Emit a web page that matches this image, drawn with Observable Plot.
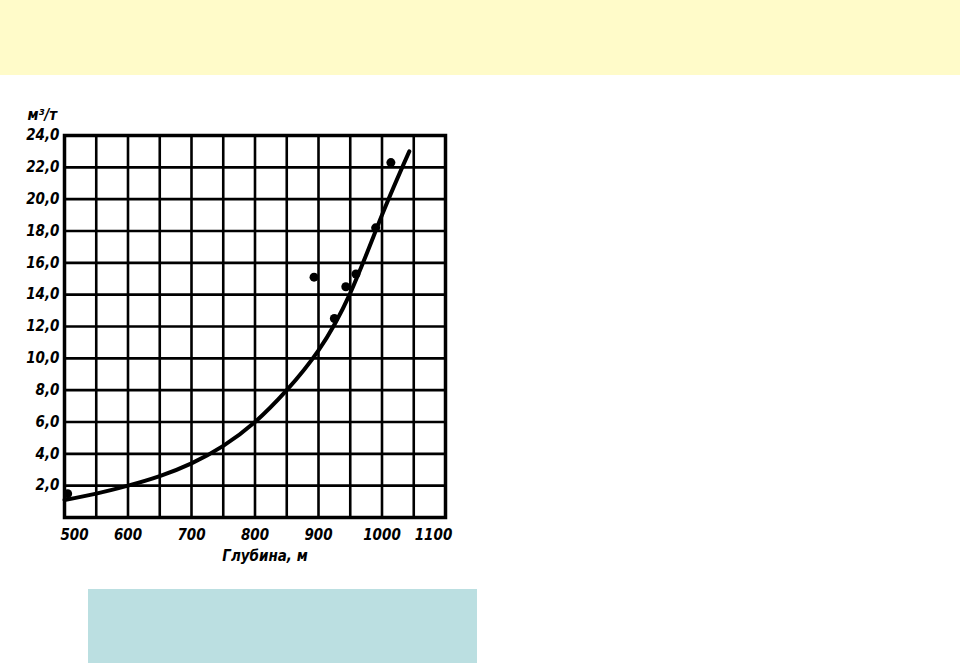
<!DOCTYPE html>
<html>
<head>
<meta charset="utf-8">
<script src="https://cdn.jsdelivr.net/npm/d3@7"></script>
<script src="https://cdn.jsdelivr.net/npm/@observablehq/plot@0.6"></script>
<style>
  html, body { margin: 0; padding: 0; background: #ffffff; width: 960px; height: 663px; overflow: hidden; position: relative; }
  #top { position: absolute; left: 0; top: 0; width: 960px; height: 75px; background: #FFFBC9; }
  #bottom { position: absolute; left: 88px; top: 589px; width: 389px; height: 74px; background: #BBDFE1; }
  #chart { position: absolute; left: 0; top: 95px; }
</style>
</head>
<body>
<div id="top"></div>
<div id="chart"></div>
<div id="bottom"></div>
<script>
// Grid / tick values
const xGrid = [500, 550, 600, 650, 700, 750, 800, 850, 900, 950, 1000, 1050, 1100];
const yGrid = [0, 2, 4, 6, 8, 10, 12, 14, 16, 18, 20, 22, 24];
const xTickValues = [600, 700, 800, 900, 1000];
const xTickLabels = ["600", "700", "800", "900", "1000"];
const xFirstTick = [500];
const xFirstLabel = ["500"];
const xLastTick = [1100];
const xLastLabel = ["1100"];
const yTickValues = [2, 4, 6, 8, 10, 12, 14, 16, 18, 20, 22, 24];
const yTickLabels = ["2,0", "4,0", "6,0", "8,0", "10,0", "12,0", "14,0", "16,0", "18,0", "20,0", "22,0", "24,0"];
const yUnit = "м³/т";
const xTitle = "Глубина, м";

// Fitted curve (depth, m³/t)
const curveDepth = [500, 550, 600, 650, 700, 750, 800, 850, 900, 950, 1000, 1043];
const curveValue = [1.1, 1.5, 2.0, 2.6, 3.4, 4.5, 6.0, 8.0, 10.5, 14.1, 19.0, 23.0];

// Observed points
const pointDepth = [505, 893, 925, 943, 959, 990, 1014];
const pointValue = [1.5, 15.1, 12.5, 14.5, 15.3, 18.2, 22.3];

const curve = curveDepth.map((d, i) => ({depth: d, value: curveValue[i]}));
const points = pointDepth.map((d, i) => ({depth: d, value: pointValue[i]}));

const font = "'DejaVu Sans Condensed', 'DejaVu Sans', sans-serif";
const lbl = {fontFamily: font, fontStyle: "italic", fontWeight: "bold", fill: "#000", fontStretch: "condensed"};

const plot = Plot.plot({
  width: 470,
  height: 482,
  marginLeft: 64,
  marginRight: 25,
  marginTop: 40,
  marginBottom: 60,
  style: {background: "transparent", fontFamily: font},
  x: {domain: [500, 1100], axis: null},
  y: {domain: [0, 24], axis: null},
  marks: [
    Plot.ruleX(xGrid, {stroke: "#000", strokeWidth: 2.6}),
    Plot.ruleY(yGrid, {stroke: "#000", strokeWidth: 2.6}),
    Plot.frame({stroke: "#000", strokeWidth: 3.5}),
    Plot.line(curve, {x: "depth", y: "value", curve: "natural", stroke: "#000", strokeWidth: 4}),
    Plot.dot(points, {x: "depth", y: "value", r: 4.5, fill: "#000", stroke: "none"}),
    Plot.text(yTickValues, {x: () => 500, y: d => d, text: (d, i) => yTickLabels[i], textAnchor: "end", dx: -5, dy: 0,
      fontSize: 15, ...lbl}),
    Plot.text(xTickValues, {x: d => d, y: () => 0, text: (d, i) => xTickLabels[i], dy: 18,
      fontSize: 15, ...lbl}),
    Plot.text(xFirstTick, {x: d => d, y: () => 0, text: (d, i) => xFirstLabel[i], dy: 18, dx: 10,
      fontSize: 15, ...lbl}),
    Plot.text(xLastTick, {x: d => d, y: () => 0, text: (d, i) => xLastLabel[i], dy: 18, dx: -12,
      fontSize: 15, ...lbl}),
    Plot.text([xTitle], {frameAnchor: "bottom", dy: 43, dx: 10, text: d => d,
      fontSize: 15, ...lbl}),
    Plot.text([yUnit], {frameAnchor: "top-left", dx: -37, dy: -26, textAnchor: "start", text: d => d,
      fontSize: 15, ...lbl})
  ]
});
document.getElementById("chart").appendChild(plot);
</script>
</body>
</html>
